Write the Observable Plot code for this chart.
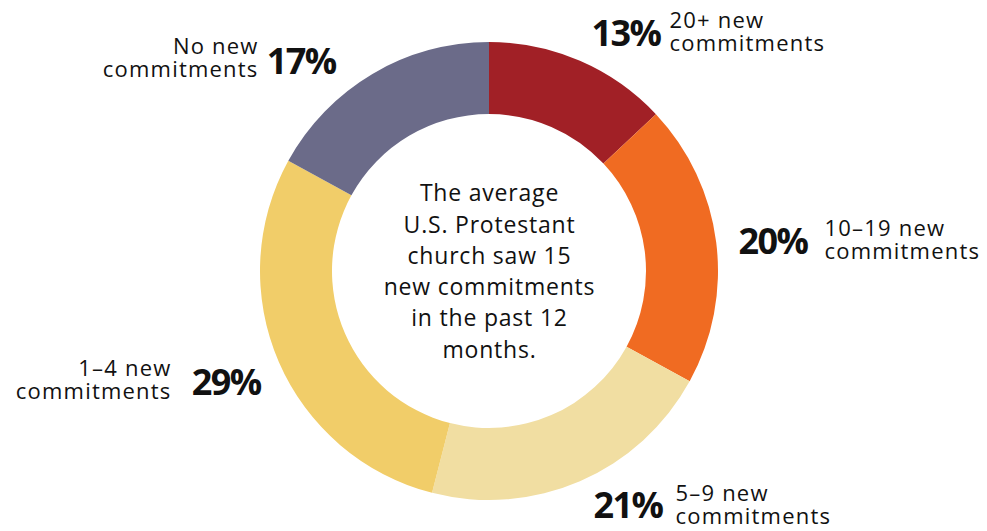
<!DOCTYPE html>
<html><head><meta charset="utf-8">
<script src="https://cdn.jsdelivr.net/npm/d3@7"></script>
<script src="https://cdn.jsdelivr.net/npm/@observablehq/plot@0.6"></script>
<style>
html,body{margin:0;padding:0;background:#fff;}
svg g[font-size="36"] text{letter-spacing:-1.6px;}
svg g[font-size="22"] text{letter-spacing:1.2px;}
svg g[font-size="23"] text{letter-spacing:0.8px;}
</style></head><body><div id="chart"></div>
<script>
// ---- data ----
const categories = ["20+ new commitments", "10–19 new commitments", "5–9 new commitments", "1–4 new commitments", "No new commitments"];
const descLine1 = ["20+ new", "10–19 new", "5–9 new", "1–4 new", "No new"];
const descLine2 = ["commitments", "commitments", "commitments", "commitments", "commitments"];
const values = [13, 20, 21, 29, 17];
const colors = ["#A12026", "#F06B22", "#F1DEA2", "#F1CD69", "#6B6B89"];
const centerLines = ["The average", "U.S. Protestant", "church saw 15", "new commitments", "in the past 12", "months."];

// ---- layout (pixels relative to the ring centre; kept apart from data) ----
const OUTER = 229, INNER = 157;
const labelLayout = [
  {side: "right", px: 102, py: -237, dx: 180, dy: -239},
  {side: "right", px: 249, py: -29,  dx: 335, dy: -31},
  {side: "right", px: 104, py: 235,  dx: 186, dy: 234},
  {side: "left",  px: -229, py: 112, dx: -318, dy: 109},
  {side: "left",  px: -154, py: -209, dx: -231, dy: -213}
];

const data = categories.map((c, i) => ({
  category: c, value: values[i], color: colors[i],
  pct: values[i] + "%", desc: descLine1[i] + "\n" + descLine2[i],
  ...labelLayout[i]
}));
const arcs = d3.pie().sort(null).value(d => d.value)(data);

const FONT = "'Open Sans', sans-serif";

const ring = (index, scales) => {
  const {x, y} = scales;
  const k = x(1) - x(0);
  const arc = d3.arc().innerRadius(INNER * k).outerRadius(OUTER * k);
  const g = d3.create("svg:g").attr("transform", `translate(${x(0)},${y(0)})`);
  g.selectAll("path").data(arcs).join("path")
    .attr("d", arc).attr("fill", d => d.data.color);
  return g.node();
};

const chart = Plot.plot({
  width: 987, height: 531,
  margin: 0,
  style: {background: "#fff", fontFamily: FONT, color: "#111"},
  x: {domain: [-489, 498], range: [0, 987], axis: null},
  y: {domain: [-271, 260], range: [0, 531], axis: null},
  marks: [
    ring,
    Plot.text(data, {filter: d => d.side === "right", x: "px", y: "py", text: "pct", textAnchor: "start", fontSize: 36, fontWeight: 700, fill: "#111"}),
    Plot.text(data, {filter: d => d.side === "left", x: "px", y: "py", text: "pct", textAnchor: "end", fontSize: 36, fontWeight: 700, fill: "#111"}),
    Plot.text(data, {filter: d => d.side === "right", x: "dx", y: "dy", text: "desc", textAnchor: "start", fontSize: 22, lineHeight: 1.02, fill: "#111"}),
    Plot.text(data, {filter: d => d.side === "left", x: "dx", y: "dy", text: "desc", textAnchor: "end", fontSize: 22, lineHeight: 1.02, fill: "#111"}),
    Plot.text([{x: 0, y: -2, t: centerLines.join("\n")}], {x: "x", y: "y", text: "t", fontSize: 23, lineHeight: 1.36, fill: "#111"})
  ]
});
document.getElementById("chart").appendChild(chart);
</script>
</body></html>
